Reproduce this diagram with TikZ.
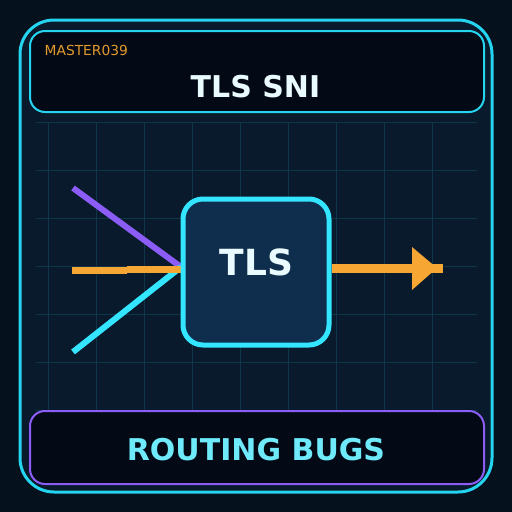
\documentclass[tikz,border=0pt]{standalone}
\usepackage{fontspec}
\setmainfont{DejaVu Sans}
\definecolor{bg}{HTML}{06111E}
\definecolor{panel}{HTML}{081A2B}
\definecolor{frame}{HTML}{25D5F0}
\definecolor{boxfill}{HTML}{030A15}
\definecolor{gridc}{HTML}{0F3548}
\definecolor{nodefill}{HTML}{0F2D4D}
\definecolor{nodeline}{HTML}{33E5FF}
\definecolor{purp}{HTML}{8B5CF6}
\definecolor{orng}{HTML}{F6A632}
\definecolor{tag}{HTML}{E39A2C}
\definecolor{titlec}{HTML}{EAFBFF}
\definecolor{foot}{HTML}{6EEAFA}
\tikzset{
  hdrbox/.style={draw=frame, line width=2pt, fill=boxfill, rounded corners=15pt},
  ftrbox/.style={draw=purp, line width=2pt, fill=boxfill, rounded corners=15pt},
  gridline/.style={draw=gridc, line width=1pt},
  centerbox/.style={draw=nodeline, line width=5pt, fill=nodefill, rounded corners=20pt,
    minimum width=146pt, minimum height=146pt, inner sep=0pt, text=titlec,
    font=\bfseries\fontsize{36}{40}\selectfont},
  ray/.style={line width=6pt},
}
\begin{document}
\begin{tikzpicture}[x=1pt,y=-1pt]
\useasboundingbox (0,0) rectangle (512,512);
\fill[bg] (0,0) rectangle (512,512);
% outer frame
\draw[draw=frame, line width=3pt, fill=panel, rounded corners=34pt] (20,20) rectangle (492,492);
% grid
\foreach \x in {48,96,...,432} \draw[gridline] (\x,122) -- (\x,410);
\foreach \y in {122,170,...,410} \draw[gridline] (36,\y) -- (477,\y);
% header
\draw[hdrbox] (30,31) rectangle (484,112);
\node[anchor=base west, text=tag, font=\fontsize{13.8}{15}\selectfont, inner sep=0pt] (tagtext) at (44.5,55) {MASTER039};
\node[anchor=base, text=titlec, font=\bfseries\fontsize{30}{33}\selectfont, inner sep=0pt] (title) at (255.5,97) {TLS SNI};
% footer
\draw[ftrbox] (30,411) rectangle (484,484);
\node[anchor=base, text=foot, font=\bfseries\fontsize{30}{33}\selectfont, inner sep=0pt] (footer) at (256,460) {ROUTING BUGS};
% rays
\coordinate (pa) at (73,188);
\coordinate (pc) at (73,352);
\coordinate (po1) at (72,270.6);
\coordinate (po2) at (127,270.6);
\coordinate (po3) at (127,269.3);
\coordinate (hub) at (181,267);
\coordinate (hubo) at (181,269.3);
\draw[ray, draw=purp] (pa) -- (hub);
\draw[ray, draw=nodeline] (pc) -- (hub);
\draw[line width=7pt, draw=orng] (po1) -- (po2);
\draw[line width=7pt, draw=orng] (po3) -- (hubo);
% center node
\node[centerbox] (tls) at (256,272) {};
\node[text=titlec, font=\bfseries\fontsize{36}{40}\selectfont, anchor=base, inner sep=0pt] (tlstext) at (256.5,275) {TLS};
% output arrow
\coordinate (aend) at (443,268);
\coordinate (tip) at (437,268);
\draw[line width=9pt, draw=orng] (tls.east) ++(0,-4) coordinate (astart) (astart) -- (aend);
\fill[orng] (412,247) -- (tip) -- (412,290) -- cycle;
\end{tikzpicture}
\end{document}
